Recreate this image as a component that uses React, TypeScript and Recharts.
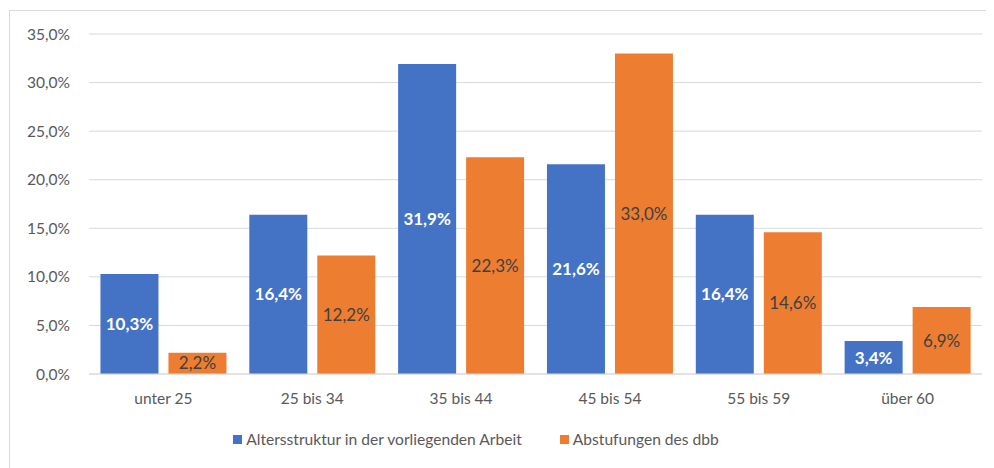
import { BarChart, Bar, XAxis, YAxis, CartesianGrid, Legend, LabelList } from 'recharts';

const categories = ['unter 25', '25 bis 34', '35 bis 44', '45 bis 54', '55 bis 59', 'über 60'];
const altersstruktur = [10.3, 16.4, 31.9, 21.6, 16.4, 3.4];
const abstufungen = [2.2, 12.2, 22.3, 33.0, 14.6, 6.9];
const yTicks = [0, 5, 10, 15, 20, 25, 30, 35];

const SERIES = [
    { key: 'a', name: 'Altersstruktur in der vorliegenden Arbeit', color: '#4472C4', labelColor: '#ffffff', weight: 700 },
    { key: 'b', name: 'Abstufungen des dbb', color: '#ED7D31', labelColor: '#404040', weight: 400 },
];

const FONT = 'Lato, "Liberation Sans", sans-serif';

const fmt = (v: number) => `${v.toFixed(1).replace('.', ',')}%`;

const data = categories.map((name, i) => ({ name, a: altersstruktur[i], b: abstufungen[i] }));

const LegendContent = () => (
    <div style={{ display: 'flex', justifyContent: 'center', fontFamily: FONT, fontSize: 15.6, color: '#595959', paddingRight: 40, paddingTop: 3 }}>
        {SERIES.map((s, i) => (
            <div key={s.key} style={{ display: 'flex', alignItems: 'center', marginLeft: i > 0 ? 38 : 0 }}>
                <span style={{ display: 'inline-block', width: 9, height: 9, background: s.color, marginRight: 4 }} />
                <span>{s.name}</span>
            </div>
        ))}
    </div>
);

const App = () => {
    return (
        <div style={{ marginTop: 2, marginLeft: 1, borderLeft: '1px solid #d9d9d9', borderTop: '1px solid #d9d9d9', width: 985, background: '#fff' }}>
            <BarChart
                width={984}
                height={457}
                data={data}
                margin={{ top: 23, right: 12, left: 0, bottom: 17 }}
                barCategoryGap="7.7%"
                barGap={10}
            >
                <CartesianGrid vertical={false} stroke="#d9d9d9" strokeWidth={1} />
                <XAxis
                    dataKey="name"
                    axisLine={{ stroke: '#d9d9d9' }}
                    tickLine={false}
                    tickMargin={13}
                    height={53}
                    tick={{ fill: '#595959', fontSize: 15.5, fontFamily: FONT }}
                />
                <YAxis
                    domain={[0, 35]}
                    ticks={yTicks}
                    tickFormatter={fmt}
                    axisLine={false}
                    tickLine={false}
                    tickMargin={13}
                    width={79}
                    tick={{ fill: '#595959', fontSize: 15.5, fontFamily: FONT }}
                />
                <Legend verticalAlign="bottom" height={24} content={<LegendContent />} />
                {SERIES.map(s => (
                    <Bar key={s.key} dataKey={s.key} name={s.name} fill={s.color} isAnimationActive={false}>
                        <LabelList
                            dataKey={s.key}
                            position="center"
                            formatter={(v: number) => fmt(v)}
                            style={{ fill: s.labelColor, fontSize: 17, fontFamily: FONT, fontWeight: s.weight }}
                        />
                    </Bar>
                ))}
            </BarChart>
        </div>
    );
};

export default App;
